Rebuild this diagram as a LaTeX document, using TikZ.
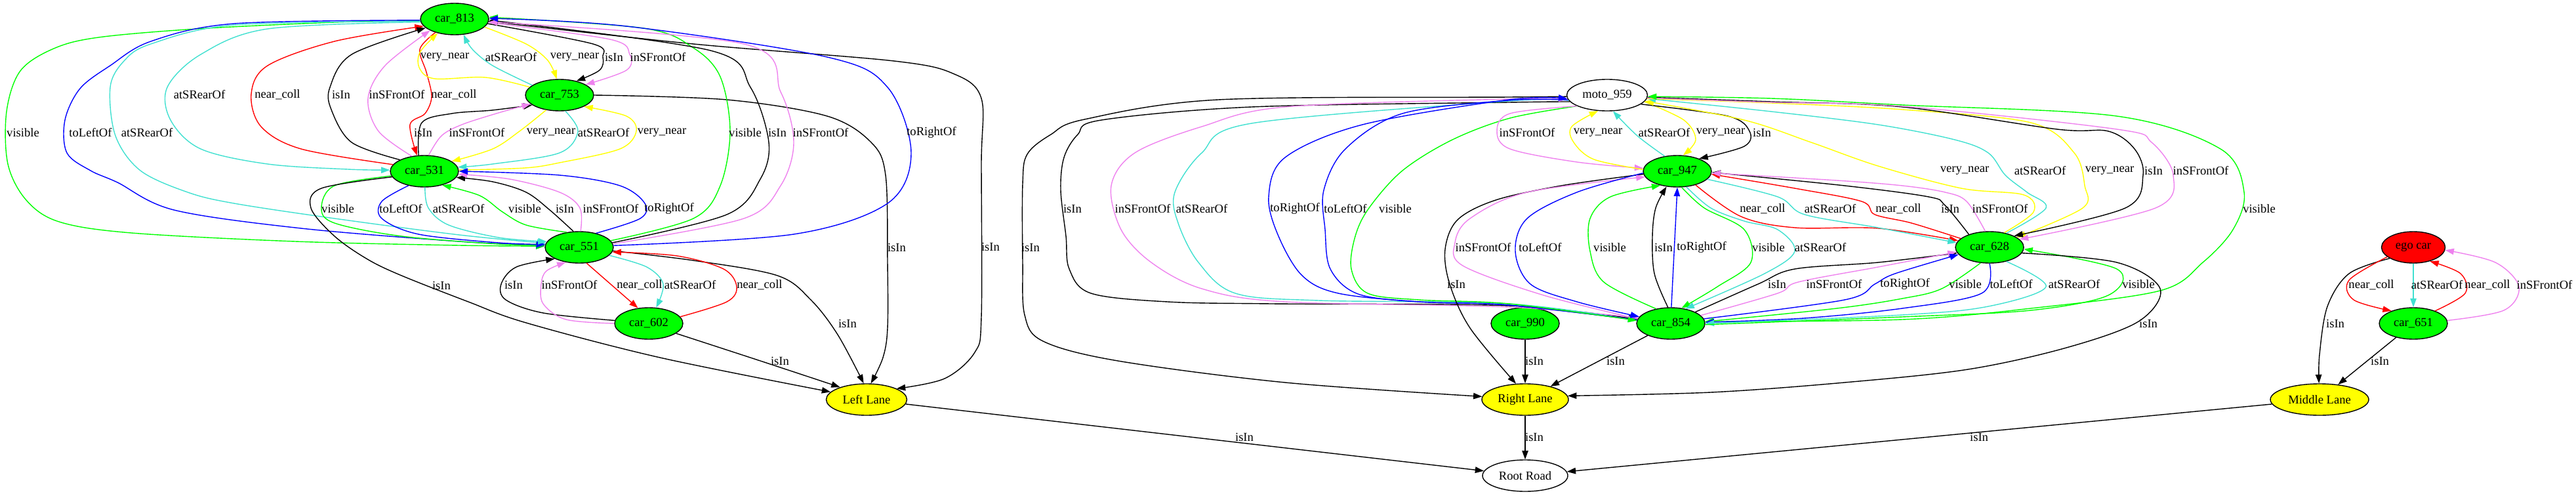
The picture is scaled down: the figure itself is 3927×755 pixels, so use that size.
\documentclass[tikz,border=0pt]{standalone}
\usepackage{fontspec}
\setmainfont{Liberation Serif}
\usetikzlibrary{shapes.geometric,arrows.meta}
\definecolor{cgreen}{RGB}{0,255,0}
\definecolor{cblue}{RGB}{0,0,255}
\definecolor{cturq}{RGB}{64,224,208}
\definecolor{cred}{RGB}{255,0,0}
\definecolor{cyel}{RGB}{255,255,0}
\definecolor{cviol}{RGB}{238,130,238}
\newcounter{lbc}
\newcommand\elab[3]{\stepcounter{lbc}\node[lb] (lab\thelbc) at (#1,#2) {#3};}
\begin{document}
\begin{tikzpicture}[x=0.5pt,y=-0.5pt,
  nd/.style={ellipse,draw=black,line width=0.7pt,minimum width=52pt,minimum height=24pt,inner sep=0pt,font=\fontsize{9.3}{11}\selectfont},
  car/.style={nd,fill=cgreen},
  lane/.style={nd,fill=cyel},
  e/.style={line width=0.7pt,-{Triangle[length=6.7pt,width=4.7pt]}},
  lb/.style={font=\fontsize{9.3}{11}\selectfont,inner sep=0pt},
  sm/.style={smooth,tension=0.55}]
\useasboundingbox (0,0) rectangle (3927,755);
% nodes
\node[car] (c813) at (693,29) {car\_813};
\node[car] (c753) at (853,145) {car\_753};
\node[car] (c531) at (647,261) {car\_531};
\node[car] (c551) at (883,377) {car\_551};
\node[car] (c602) at (989,493) {car\_602};
\node[lane,minimum width=61.5pt] (LL) at (1321,609) {Left Lane};
\node[nd,minimum width=61.5pt] (moto) at (2450,145) {moto\_959};
\node[car] (c947) at (2557,261) {car\_947};
\node[car] (c628) at (3033,377) {car\_628};
\node[car] (c854) at (2547,493) {car\_854};
\node[car] (c990) at (2325,493) {car\_990};
\node[lane,minimum width=66pt] (RL) at (2325,609) {Right Lane};
\node[nd,minimum width=65pt] (RR) at (2325,725) {Root Road};
\node[nd,fill=cred,minimum width=48.5pt] (ego) at (3679,377) {ego car};
\node[car] (c651) at (3679,493) {car\_651};
\node[lane,minimum width=75pt] (ML) at (3536,609) {Middle Lane};

% ---------- left cluster ----------
\draw[e,cgreen] plot[sm] coordinates {(c813.183) (510,34) (300,44) (150,57) (82,74) (31,108) (10,170) (12,250) (40,305) (90,338) (200,355) (450,368) (700,374) (c551.178)};
\draw[e,cblue] plot[sm] coordinates {(c813.182) (357,36) (230,63) (168,100) (122,135) (99,183) (102,233) (138,260) (179,278) (265,320) (459,348) (700,368) (c551.177)};
\draw[e,cturq] plot[sm] coordinates {(c813.184) (357,38) (230,67) (189,93) (168,133) (176,207) (214,260) (286,293) (357,310) (510,333) (700,358) (c551.173)};
\draw[e,cturq] plot[sm] coordinates {(c813.185) (408,44) (306,83) (255,133) (260,183) (306,227) (408,250) (530,258) (c531.178)};
\draw[e,cred] plot[sm] coordinates {(c531.168) (459,227) (398,193) (383,143) (408,100) (510,63) (c813.193)};
\draw[e,black] plot[sm] coordinates {(c531.155) (536,217) (505,167) (503,133) (536,83) (c813.197)};
\draw[e,cviol] plot[sm] coordinates {(c531.130) (577,200) (561,150) (587,100) (c813.205)};
\draw[e,cred] plot[sm] coordinates {(c813.215) (640,75) (650,110) (658,147) (648,173) (625,190) (c531.115)};
\draw[e,cyel] plot[sm] coordinates {(c753.165) (740,118) (663,120) (640,105) (640,80) (c813.220)};
\draw[e,cturq] plot[sm] coordinates {(c753.160) (751,100) (720,75) (c813.300)};
\draw[e,cyel] plot[sm] coordinates {(c813.345) (802,67) (835,92) (c753.100)};
\draw[e,black] plot[sm] coordinates {(c813.352) (904,67) (919,87) (914,107) (c753.40)};
\draw[e,cviol] plot[sm] coordinates {(c813.354) (930,60) (960,83) (955,107) (c753.22)};
\draw[e,black] plot[sm] coordinates {(c531.110) (643,187) (689,173) (750,168) (c753.200)};
\draw[e,cviol] plot[sm] coordinates {(c531.75) (673,207) (704,190) (760,172) (c753.197)};
\draw[e,cyel] plot[sm] coordinates {(c753.228) (792,200) (751,227) (c531.20)};
\draw[e,cturq] plot[sm] coordinates {(c753.290) (881,200) (853,233) (751,250) (c531.7)};
\draw[e,cyel] plot[sm] coordinates {(c531.2) (800,256) (853,248) (945,227) (970,200) (955,177) (c753.335)};
\draw[e,black] plot[sm] coordinates {(c813.356) (1057,67) (1363,93) (1455,113) (1496,150) (1496,250) (1496,483) (1486,537) (1440,577) (LL.20)};
\draw[e,black] plot[sm] coordinates {(c753.0) (1108,152) (1261,177) (1328,217) (1350,267) (1353,400) (1353,500) (1346,545) (LL.75)};
\draw[e,cgreen] plot[sm] coordinates {(c551.12) (1057,333) (1098,283) (1113,200) (1098,117) (1057,73) (981,43) (c813.3)};
\draw[e,black] plot[sm] coordinates {(c551.8) (1108,327) (1159,273) (1172,217) (1144,133) (1083,77) (c813.358)};
\draw[e,cviol] plot[sm] coordinates {(c551.6) (1134,333) (1190,283) (1210,217) (1190,140) (1134,67) (c813.355)};
\draw[e,cblue] plot[sm] coordinates {(c551.3) (1210,357) (1353,310) (1389,233) (1353,133) (1261,87) (955,40) (c813.1)};
\draw[e,cgreen] plot[sm] coordinates {(c531.188) (510,283) (490,317) (510,340) (612,360) (760,372) (c551.176)};
\draw[e,cblue] plot[sm] coordinates {(c531.222) (582,307) (582,333) (638,357) (760,370) (c551.175)};
\draw[e,cturq] plot[sm] coordinates {(c531.272) (653,317) (684,343) (760,362) (c551.170)};
\draw[e,cgreen] plot[sm] coordinates {(c551.130) (802,343) (766,323) (731,298) (c531.322)};
\draw[e,black] plot[sm] coordinates {(c551.110) (838,320) (802,293) (751,277) (c531.349)};
\draw[e,cviol] plot[sm] coordinates {(c551.85) (884,317) (853,293) (777,273) (c531.355)};
\draw[e,cblue] plot[sm] coordinates {(c551.40) (976,333) (983,310) (945,283) (853,267) (c531.0)};
\draw[e,black] plot[sm] coordinates {(c531.190) (490,287) (474,317) (510,360) (560,395) (612,420) (714,460) (802,492) (1006,545) (LL.168)};
\draw[e,black] plot[sm] coordinates {(c551.354) (1057,397) (1185,420) (1236,457) (1277,510) (LL.100)};
\draw[e,black] plot[sm] coordinates {(c602.340) (1159,550) (LL.155)};
\draw[e,black] plot[sm] coordinates {(c602.175) (828,477) (771,457) (764,433) (787,407) (c551.205)};
\draw[e,cviol] plot[sm] coordinates {(c602.180) (863,487) (828,463) (825,433) (833,413) (c551.228)};
\draw[e,cred] (c551.295) -- (c602.125);
\draw[e,cturq] plot[sm] coordinates {(c551.345) (986,407) (1011,433) (c602.65)};
\draw[e,cred] plot[sm] coordinates {(c602.12) (1108,460) (1123,437) (1103,410) (1032,390) (c551.352)};
\draw[e,black] (LL) -- (RR);

% ---------- right cluster ----------
\draw[e,black] plot[sm] coordinates {(moto.182) (2300,148) (1857,152) (1653,182) (1602,205) (1566,235) (1559,280) (1559,400) (1562,480) (1590,520) (1704,550) (1959,583) (RL.176)};
\draw[e,black] plot[sm] coordinates {(moto.190) (2300,156) (1908,163) (1679,183) (1643,205) (1622,240) (1617,290) (1625,360) (1630,410) (1663,447) (1780,460) (1939,463) (2300,466) (c854.173)};
\draw[e,cviol] plot[sm] coordinates {(c854.170) (2300,468) (1959,460) (1832,440) (1755,400) (1709,350) (1694,283) (1730,233) (1832,193) (1959,163) (2300,151) (moto.186)};
\draw[e,cturq] plot[sm] coordinates {(moto.188) (2300,154) (1908,188) (1832,233) (1791,293) (1796,340) (1827,400) (1883,447) (2010,458) (2300,463) (c854.175)};
\draw[e,cblue] plot[sm] coordinates {(c854.174) (2300,465) (2163,460) (2040,447) (1985,420) (1949,360) (1934,300) (1959,240) (2077,190) (2300,152) (moto.185)};
\draw[e,cblue] plot[sm] coordinates {(moto.187) (2300,153) (2138,173) (2051,227) (2018,290) (2020,350) (2028,410) (2070,448) (2163,460) (2300,465) (c854.174)};
\draw[e,cgreen] plot[sm] coordinates {(moto.200) (2302,180) (2214,213) (2138,260) (2087,317) (2066,360) (2060,410) (2085,447) (2163,457) (2300,463) (c854.175)};
\draw[e,cviol] plot[sm] coordinates {(moto.200) (2302,173) (2282,200) (2302,227) (2404,247) (c947.175)};
\draw[e,cyel] plot[sm] coordinates {(c947.177) (2430,243) (2399,217) (2396,193) (moto.240)};
\draw[e,cturq] plot[sm] coordinates {(c947.130) (2496,207) (moto.290)};
\draw[e,cyel] plot[sm] coordinates {(moto.350) (2567,183) (2585,213) (c947.70)};
\draw[e,black] plot[sm] coordinates {(moto.345) (2634,177) (2667,200) (2659,223) (c947.30)};
\draw[e,black] plot[sm] coordinates {(c947.185) (2380,283) (2280,305) (2222,335) (2203,380) (2210,433) (2241,500) (RL.120)};
\draw[e,cviol] plot[sm] coordinates {(c854.172) (2353,450) (2230,405) (2218,370) (2241,333) (2328,293) (c947.190)};
\draw[e,cblue] plot[sm] coordinates {(c947.183) (2404,293) (2328,333) (2310,383) (2333,433) (2404,460) (c854.168)};
\draw[e,cgreen] plot[sm] coordinates {(c854.135) (2445,430) (2424,383) (2424,333) (2455,300) (c947.220)};
\draw[e,black] plot[sm] coordinates {(c854.100) (2522,417) (2519,360) (2524,317) (c947.235)};
\draw[e,cblue] (c854.88) -- (c947.270);
\draw[e,cgreen] plot[sm] coordinates {(c947.285) (2598,317) (2659,350) (2669,400) (2618,437) (c854.55)};
\draw[e,cturq] plot[sm] coordinates {(c947.300) (2608,317) (2659,337) (2710,350) (2736,383) (2690,417) (c854.45)};
\draw[e,cred] plot[sm] coordinates {(c947.323) (2654,330) (2736,347) (2863,348) (c628.168)};
\draw[e,cturq] plot[sm] coordinates {(c947.345) (2710,300) (2751,327) (2863,347) (c628.172)};
\draw[e,cred] plot[sm] coordinates {(c628.163) (2914,340) (2858,327) (2838,307) (2736,287) (c947.355)};
\draw[e,black] plot[sm] coordinates {(c628.148) (2965,313) (2940,300) (2812,283) (c947.358)};
\draw[e,cviol] plot[sm] coordinates {(c628.105) (2998,307) (2965,293) (2900,283) (2800,275) (c947.357)};
\draw[e,cyel] plot[sm] coordinates {(c628.45) (3100,323) (3085,297) (2990,287) (2863,253) (2761,217) (2659,183) (moto.351)};
\draw[e,cturq] plot[sm] coordinates {(c628.40) (3119,317) (3090,293) (3057,267) (3031,233) (2980,213) (2863,190) (2700,170) (moto.355)};
\draw[e,cyel] plot[sm] coordinates {(moto.355) (2700,157) (2900,167) (3096,187) (3162,233) (3178,283) (3175,317) (c628.20)};
\draw[e,black] plot[sm] coordinates {(moto.357) (2700,155) (2900,163) (3136,197) (3214,200) (3254,227) (3267,267) (3240,317) (c628.25)};
\draw[e,cviol] plot[sm] coordinates {(moto.356) (2700,156) (2900,162) (3227,197) (3280,217) (3313,267) (3286,317) (c628.15)};
\draw[e,cgreen] plot[sm] coordinates {(c854.3) (2900,487) (3096,470) (3293,443) (3358,400) (3404,350) (3421,293) (3385,227) (3227,177) (2900,160) (2700,150) (moto.358)};
\draw[e,black] plot[sm] coordinates {(c854.25) (2680,433) (2736,410) (2863,400) (c628.190)};
\draw[e,cviol] plot[sm] coordinates {(c854.15) (2710,447) (2741,430) (2863,407) (c628.188)};
\draw[e,cblue] plot[sm] coordinates {(c854.8) (2812,457) (2858,433) (2889,417) (c628.193)};
\draw[e,cgreen] plot[sm] coordinates {(c628.240) (2960,440) (2900,455) (2800,470) (c854.3)};
\draw[e,cblue] plot[sm] coordinates {(c628.270) (3021,447) (2900,470) (2750,485) (c854.2)};
\draw[e,cturq] plot[sm] coordinates {(c628.320) (3119,437) (3031,467) (2900,480) (c854.0)};
\draw[e,cgreen] plot[sm] coordinates {(c854.358) (2900,483) (3096,473) (3214,450) (3227,410) (c628.357)};
\draw[e,black] plot[sm] coordinates {(c628.350) (3227,400) (3293,440) (3260,490) (3150,530) (3000,563) (2812,583) (2608,598) (RL.5)};
\draw[e,black] (c854) -- (RL);
\draw[e,black] (c990) -- (RL);
\draw[e,black] (RL) -- (RR);
\draw[e,black] (ML) -- (RR);
\draw[e,black] plot[sm] coordinates {(ego.205) (3581,417) (3548,467) (3536,540) (ML.92)};
\draw[e,black] (c651) -- (ML);
\draw[e,cred] plot[sm] coordinates {(ego.200) (3581,427) (3588,457) (c651.150)};
\draw[e,cturq] (ego) -- (c651);
\draw[e,cred] plot[sm] coordinates {(c651.30) (3758,447) (3751,417) (ego.320)};
\draw[e,cviol] plot[sm] coordinates {(c651.5) (3817,473) (3840,437) (3804,400) (ego.355)};

% ---------- labels ----------
\elab{35}{202}{visible}
\elab{138}{202}{toLeftOf}
\elab{224}{202}{atSRearOf}
\elab{304}{144}{atSRearOf}
\elab{423}{144}{near\_coll}
\elab{520}{144}{isIn}
\elab{605}{144}{inSFrontOf}
\elab{692}{144}{near\_coll}
\elab{678}{87}{very\_near}
\elab{779}{87}{atSRearOf}
\elab{876}{87}{very\_near}
\elab{936}{87}{isIn}
\elab{1003}{87}{inSFrontOf}
\elab{645}{202}{isIn}
\elab{727}{202}{inSFrontOf}
\elab{840}{202}{very\_near}
\elab{920}{202}{atSRearOf}
\elab{1009}{202}{very\_near}
\elab{1136}{202}{visible}
\elab{1185}{202}{isIn}
\elab{1251}{202}{inSFrontOf}
\elab{1420}{202}{toRightOf}
\elab{515}{318}{visible}
\elab{611}{318}{toLeftOf}
\elab{699}{318}{atSRearOf}
\elab{800}{318}{visible}
\elab{861}{318}{isIn}
\elab{931}{318}{inSFrontOf}
\elab{1020}{318}{toRightOf}
\elab{1367}{377}{isIn}
\elab{1510}{376}{isIn}
\elab{673}{435}{isIn}
\elab{783}{434}{isIn}
\elab{868}{434}{inSFrontOf}
\elab{975}{434}{near\_coll}
\elab{1052}{434}{atSRearOf}
\elab{1158}{434}{near\_coll}
\elab{1292}{493}{isIn}
\elab{1189}{550}{isIn}
\elab{1897}{666}{isIn}
\elab{1571}{377}{isIn}
\elab{1635}{318}{isIn}
\elab{1742}{318}{inSFrontOf}
\elab{1832}{318}{atSRearOf}
\elab{1974}{318}{toRightOf}
\elab{2051}{318}{toLeftOf}
\elab{2127}{318}{visible}
\elab{2328}{202}{inSFrontOf}
\elab{2436}{202}{very\_near}
\elab{2537}{202}{atSRearOf}
\elab{2623}{202}{very\_near}
\elab{2686}{202}{isIn}
\elab{2687}{318}{near\_coll}
\elab{2790}{318}{atSRearOf}
\elab{2894}{318}{near\_coll}
\elab{2973}{318}{isIn}
\elab{3049}{318}{inSFrontOf}
\elab{3444}{318}{visible}
\elab{2995}{260}{very\_near}
\elab{3110}{260}{atSRearOf}
\elab{3216}{260}{very\_near}
\elab{3283}{260}{isIn}
\elab{3355}{260}{inSFrontOf}
\elab{2261}{377}{inSFrontOf}
\elab{2348}{377}{toLeftOf}
\elab{2454}{377}{visible}
\elab{2536}{377}{isIn}
\elab{2594}{377}{toRightOf}
\elab{2696}{377}{visible}
\elab{2775}{377}{atSRearOf}
\elab{2220}{433}{isIn}
\elab{2709}{433}{isIn}
\elab{2796}{433}{inSFrontOf}
\elab{2904}{433}{toRightOf}
\elab{2996}{433}{visible}
\elab{3066}{433}{toLeftOf}
\elab{3162}{433}{atSRearOf}
\elab{3260}{433}{visible}
\elab{3275}{493}{isIn}
\elab{2463}{550}{isIn}
\elab{2339}{550}{isIn}
\elab{2339}{666}{isIn}
\elab{3017}{666}{isIn}
\elab{3560}{493}{isIn}
\elab{3628}{550}{isIn}
\elab{3615}{434}{near\_coll}
\elab{3715}{434}{atSRearOf}
\elab{3792}{434}{near\_coll}
\elab{3879}{434}{inSFrontOf}
\end{tikzpicture}
\end{document}
